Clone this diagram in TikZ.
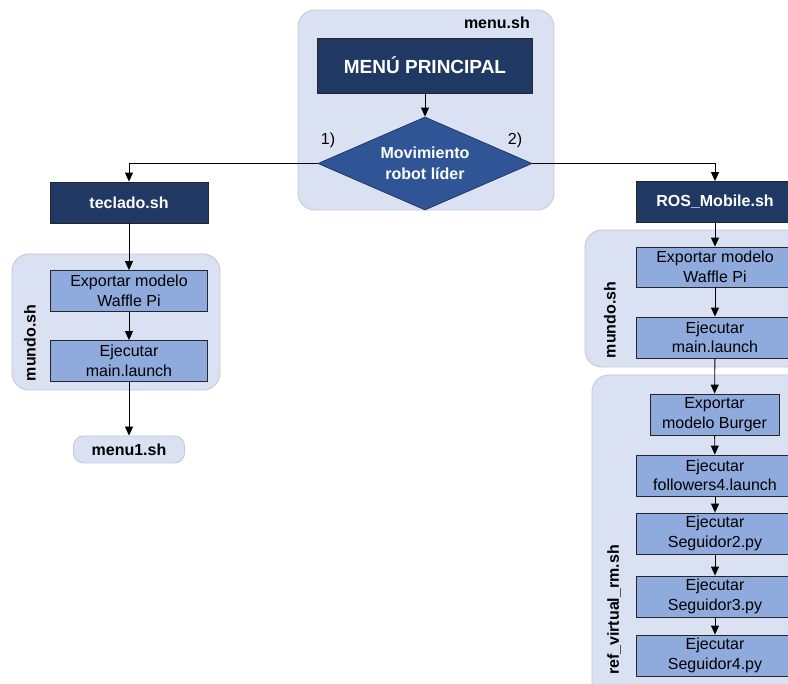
\documentclass[tikz,border=0pt]{standalone}
\usepackage{fontspec}
\setmainfont{Liberation Sans}
\usetikzlibrary{shapes.geometric,arrows.meta}
\definecolor{navy}{HTML}{1F3864}
\definecolor{dianavy}{HTML}{2F5597}
\definecolor{stepblue}{HTML}{8FAADC}
\definecolor{groupbg}{HTML}{DAE1F3}
\definecolor{groupline}{HTML}{C6C9D2}
\tikzset{
  grp/.style={fill=groupbg,draw=groupline,line width=0.9pt,rounded corners=17pt},
  headbox/.style={draw=black!85,fill=navy,text=white,font=\bfseries\fontsize{16}{19}\selectfont,
    minimum width=158pt,minimum height=41pt,inner sep=0pt,line width=0.8pt},
  stepbox/.style={draw=black!85,fill=stepblue,text=black,font=\fontsize{16}{19.5}\selectfont,
    align=center,minimum width=157pt,minimum height=41pt,inner sep=0pt,line width=0.8pt},
  decision/.style={diamond,shape aspect=2.3,draw=navy,fill=dianavy,text=white,
    font=\bfseries\fontsize{16}{21}\selectfont,align=center,
    minimum width=214pt,minimum height=93pt,inner sep=0pt,line width=0.8pt},
  grplabel/.style={font=\bfseries\fontsize{16}{19}\selectfont,text=black,inner sep=0pt},
  endbox/.style={draw=groupline,fill=groupbg,rounded corners=10pt,line width=0.9pt,
    font=\bfseries\fontsize{16}{19}\selectfont,minimum width=111pt,minimum height=27pt,inner sep=0pt},
  flow/.style={-{Triangle[length=9pt,width=8pt]},line width=0.9pt,black},
  optlabel/.style={font=\fontsize{16}{19}\selectfont,inner sep=0pt}
}
\begin{document}
\begin{tikzpicture}[x=1pt,y=-1pt]
\useasboundingbox (0,0) rectangle (788,684);
\clip (0,0) rectangle (788,684);
\fill[white] (0,0) rectangle (788,684);

% group containers
\draw[grp] (298,10) rectangle (554,210);
\draw[grp] (12,254) rectangle (220,390);
\draw[grp] (585,230) rectangle (810,367);
\draw[grp] (592,375) rectangle (810,710);

% group labels
\node[grplabel,anchor=east] (lmenu) at (530,23) {menu.sh};
\node[grplabel,rotate=90] (lmundoL) at (30,343) {mundo.sh};
\node[grplabel,rotate=90] (lmundoR) at (610,320) {mundo.sh};
\node[grplabel,rotate=90] (lref) at (614,610) {ref\_virtual\_rm.sh};

% main menu
\node[headbox,minimum width=215pt,minimum height=55pt,font=\bfseries\fontsize{19}{22}\selectfont] (menu) at (425,65.5) {MENÚ PRINCIPAL};
\node[decision] (dec) at (425,163.5) {Movimiento\\robot líder};
\node[optlabel] (o1) at (328,140) {1)};
\node[optlabel] (o2) at (515,140) {2)};

% left branch
\node[headbox] (tec) at (129,202.5) {teclado.sh};
\node[stepbox] (expL) at (129,291) {Exportar modelo\\Waffle Pi};
\node[stepbox] (ejL) at (129,361) {Ejecutar\\main.launch};
\node[endbox] (m1) at (129,449.5) {menu1.sh};

% right branch
\node[headbox] (ros) at (715,202) {ROS\_Mobile.sh};
\node[stepbox,minimum height=40pt] (expR) at (715,267) {Exportar modelo\\Waffle Pi};
\node[stepbox] (ejR) at (715,337.5) {Ejecutar\\main.launch};
\node[stepbox,minimum width=129pt] (burg) at (714.5,414.5) {Exportar\\modelo Burger};
\node[stepbox] (fol) at (715,475.5) {Ejecutar\\followers4.launch};
\node[stepbox] (s2) at (715,533.5) {Ejecutar\\Seguidor2.py};
\node[stepbox] (s3) at (715,596.5) {Ejecutar\\Seguidor3.py};
\node[stepbox] (s4) at (715,655.5) {Ejecutar\\Seguidor4.py};

% connectors
\draw[flow] (menu) -- (dec);
\draw[flow] (dec.west) -| (tec.north);
\draw[flow] (dec.east) -| (ros.north);
\draw[flow] (tec) -- (expL);
\draw[flow] (expL) -- (ejL);
\draw[flow] (ejL) -- (m1);
\draw[flow] (ros) -- (expR);
\draw[flow] (expR) -- (ejR);
\draw[flow] (ejR) -- (burg);
\draw[flow] (burg) -- (fol);
\draw[flow] (fol) -- (s2);
\draw[flow] (s2) -- (s3);
\draw[flow] (s3) -- (s4);
\end{tikzpicture}
\end{document}
